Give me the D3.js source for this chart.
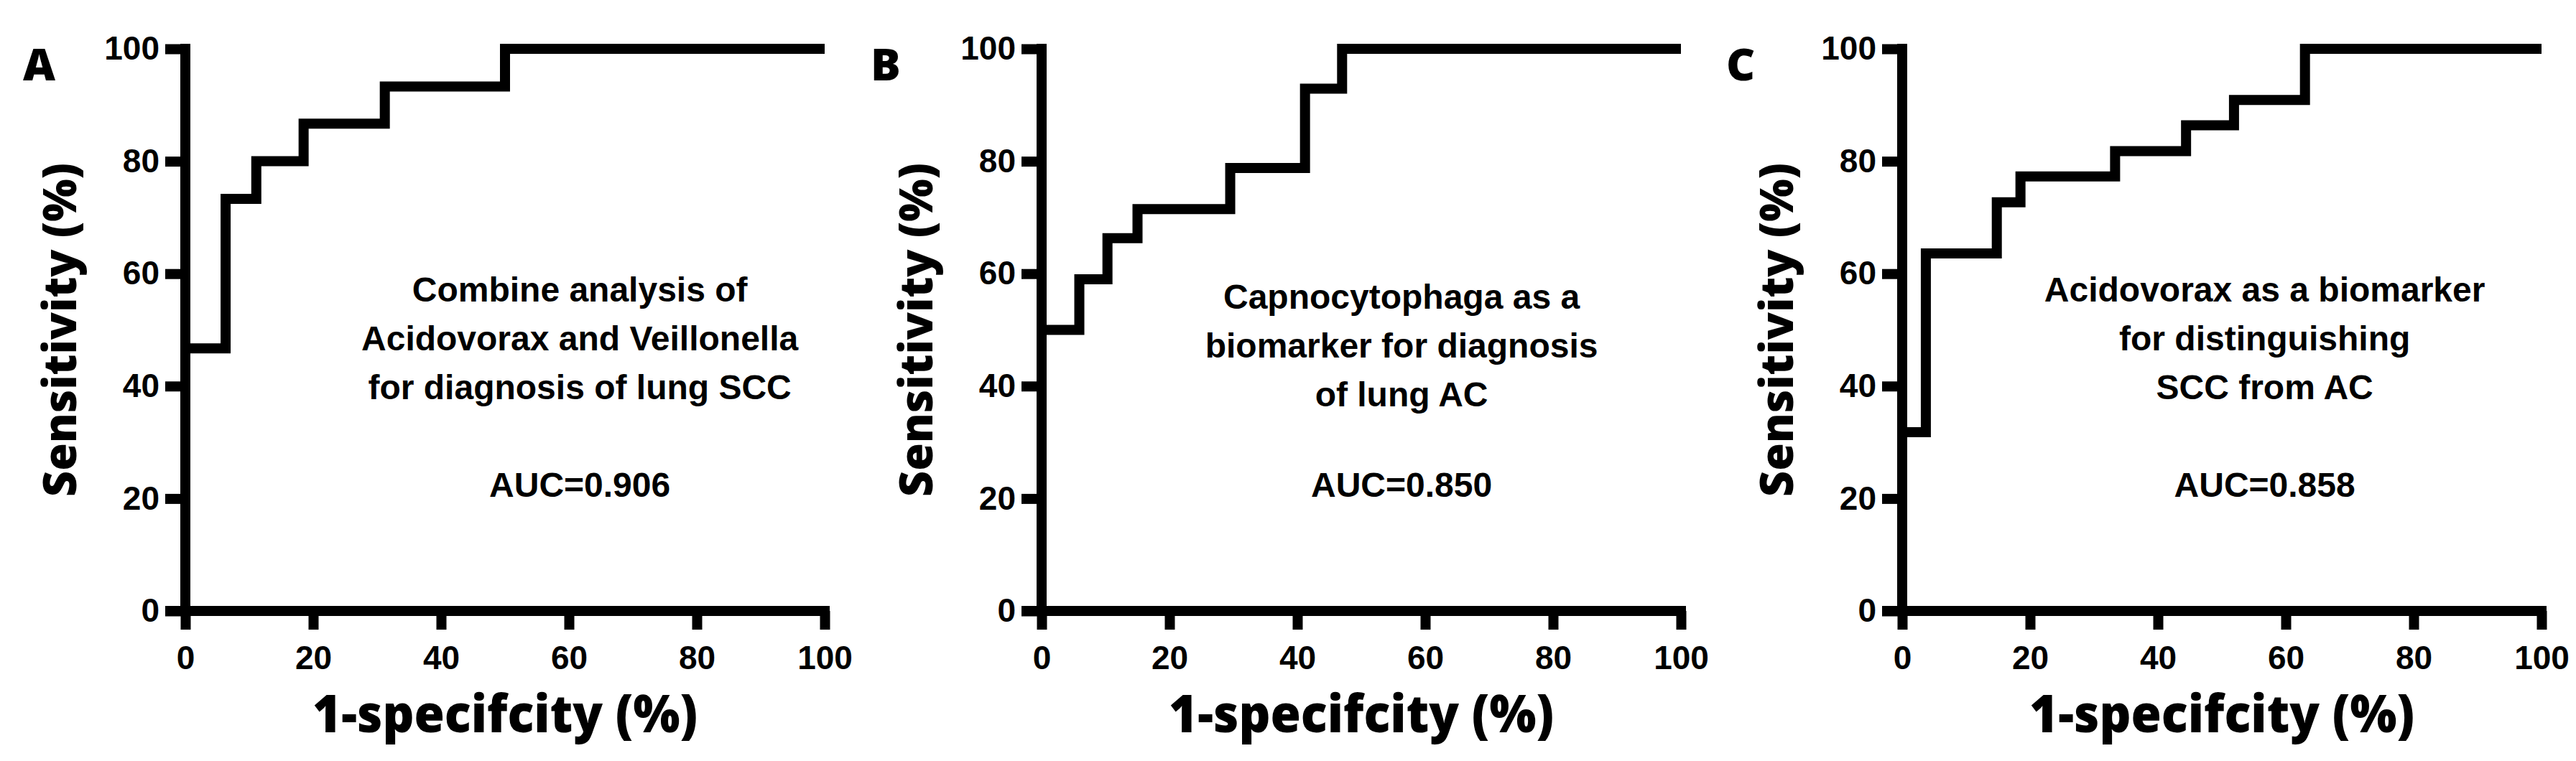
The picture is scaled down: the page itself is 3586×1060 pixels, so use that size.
<!DOCTYPE html>
<html>
<head>
<meta charset="utf-8">
<script src="https://cdn.jsdelivr.net/npm/d3@7"></script>
<style>
  body { margin: 0; background: #fff; }
</style>
</head>
<body>
<svg id="chart" width="3586" height="1060"></svg>
<script>
// ROC step points: [1-specificity %, sensitivity %]
const rocA = [[0,0],[0,46.7],[6.3,46.7],[6.3,73.3],[11.1,73.3],[11.1,80],[18.5,80],[18.5,86.7],[31.2,86.7],[31.2,93.3],[50,93.3],[50,100],[100,100]]
const rocB = [[0,0],[0,50],[5.9,50],[5.9,59],[10.3,59],[10.3,66.3],[15,66.3],[15,71.5],[29.5,71.5],[29.5,78.8],[41.2,78.8],[41.2,92.9],[47,92.9],[47,100],[100,100]]
const rocC = [[0,0],[0,31.8],[3.7,31.8],[3.7,63.6],[14.8,63.6],[14.8,72.7],[18.5,72.7],[18.5,77.3],[33.3,77.3],[33.3,81.8],[44.4,81.8],[44.4,86.4],[51.9,86.4],[51.9,90.9],[63,90.9],[63,100],[100,100]]
const ticks = [0, 20, 40, 60, 80, 100]
const panelLetters = ['A', 'B', 'C']
const notes = [
  ['Combine analysis of', 'Acidovorax and Veillonella', 'for diagnosis of lung SCC'],
  ['Capnocytophaga as a', 'biomarker for diagnosis', 'of lung AC'],
  ['Acidovorax as a biomarker', 'for distinguishing', 'SCC from AC']
]
const aucs = ['AUC=0.906', 'AUC=0.850', 'AUC=0.858']

const panels = [
  { data: rocA, x0: 258, letterX: 32, noteX: 0.617, noteY: 420 },
  { data: rocB, x0: 1450, letterX: 1212, noteX: 0.563, noteY: 430 },
  { data: rocC, x0: 2648, letterX: 2403, noteX: 0.567, noteY: 420 }
]

const svg = d3.select('#chart')
const W = 890, plotTop = 68, plotBottom = 851
const sw = 14
const titleFont = "'Open Sans', 'DejaVu Sans', sans-serif"
const bodyFont = "'Liberation Sans', Arial, sans-serif"

panels.forEach((p, i) => {
  const x = d3.scaleLinear().domain([0, 100]).range([p.x0, p.x0 + W])
  const y = d3.scaleLinear().domain([0, 100]).range([plotBottom, plotTop])
  const g = svg.append('g')

  // y axis
  const ya = g.append('g').attr('transform', `translate(${p.x0},0)`)
    .call(d3.axisLeft(y).tickValues(ticks).tickSize(28).tickPadding(8))
  // x axis
  const xa = g.append('g').attr('transform', `translate(0,${plotBottom})`)
    .call(d3.axisBottom(x).tickValues(ticks).tickSize(26).tickPadding(22))
  ;[ya, xa].forEach(a => {
    a.select('.domain').remove()
    a.selectAll('line').attr('stroke', '#000').attr('stroke-width', sw)
    a.selectAll('text').attr('font-family', bodyFont).attr('font-weight', 700)
      .attr('font-size', 46).attr('fill', '#000')
  })
  // axis lines
  g.append('line').attr('x1', p.x0).attr('x2', p.x0).attr('y1', y(100) - sw / 2).attr('y2', plotBottom)
    .attr('stroke', '#000').attr('stroke-width', sw)
  g.append('line').attr('x1', p.x0 - 28).attr('x2', x(100) + sw / 2).attr('y1', plotBottom).attr('y2', plotBottom)
    .attr('stroke', '#000').attr('stroke-width', sw)

  // ROC curve
  g.append('path').datum(p.data)
    .attr('d', d3.line().x(d => x(d[0])).y(d => y(d[1])))
    .attr('fill', 'none').attr('stroke', '#000').attr('stroke-width', sw)
    .attr('stroke-linejoin', 'miter').attr('stroke-linecap', 'butt')

  // axis titles
  g.append('text').text('1-specifcity (%)')
    .attr('x', p.x0 + W / 2).attr('y', 1020).attr('text-anchor', 'middle')
    .attr('font-family', titleFont).attr('font-weight', 800).attr('font-size', 72)
    .attr('textLength', 536).attr('lengthAdjust', 'spacingAndGlyphs')
  g.append('text').text('Sensitivity (%)')
    .attr('transform', `translate(${p.x0 - 152},${(plotTop + plotBottom) / 2}) rotate(-90)`)
    .attr('text-anchor', 'middle')
    .attr('font-family', titleFont).attr('font-weight', 800).attr('font-size', 64)
    .attr('textLength', 465).attr('lengthAdjust', 'spacingAndGlyphs')

  // panel letter
  g.append('text').text(panelLetters[i])
    .attr('x', p.letterX).attr('y', 112)
    .attr('font-family', titleFont).attr('font-weight', 800).attr('font-size', 62)

  // annotation
  const cx = p.x0 + W * p.noteX
  notes[i].forEach((line, k) => {
    g.append('text').text(line).attr('x', cx).attr('y', p.noteY + k * 68)
      .attr('text-anchor', 'middle').attr('font-family', bodyFont)
      .attr('font-weight', 700).attr('font-size', 48)
  })
  g.append('text').text(aucs[i]).attr('x', cx).attr('y', 692)
    .attr('text-anchor', 'middle').attr('font-family', bodyFont)
    .attr('font-weight', 700).attr('font-size', 48)
})
</script>
</body>
</html>
